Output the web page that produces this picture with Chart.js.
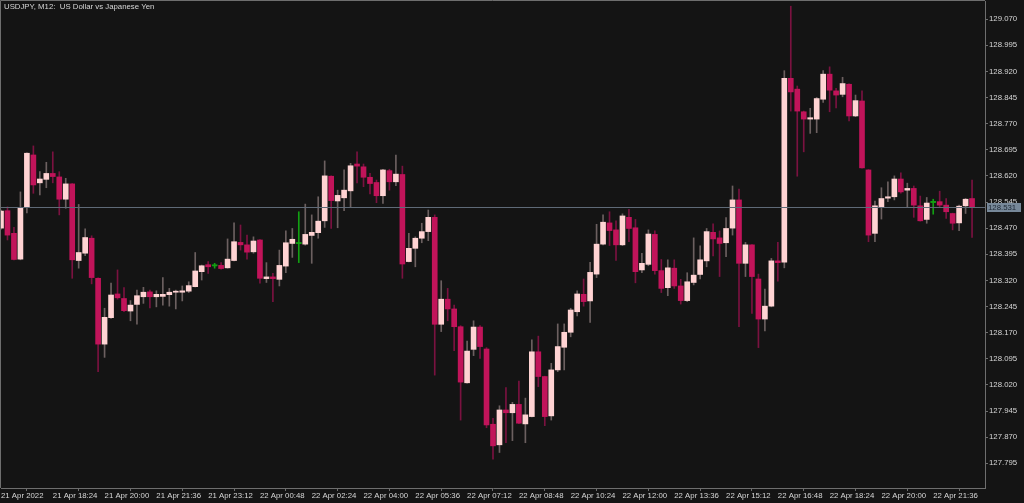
<!DOCTYPE html>
<html>
<head>
<meta charset="utf-8">
<script src="https://cdn.jsdelivr.net/npm/chart.js@4.4.1/dist/chart.umd.min.js"></script>
<style>
  html, body { margin: 0; padding: 0; background: #141414; }
  canvas { display: block; }
</style>
</head>
<body>
<canvas id="chart" width="1024" height="503"></canvas>
<script>
// USDJPY M12, 21 Apr 16:48 .. 22 Apr 22:48 (151 bars)
const title = 'USDJPY, M12:  US Dollar vs Japanese Yen'
const bid = 128.531

const tickLabels = ['21 Apr 2022', '21 Apr 18:24', '21 Apr 20:00', '21 Apr 21:36', '21 Apr 23:12',
  '22 Apr 00:48', '22 Apr 02:24', '22 Apr 04:00', '22 Apr 05:36', '22 Apr 07:12', '22 Apr 08:48',
  '22 Apr 10:24', '22 Apr 12:00', '22 Apr 13:36', '22 Apr 15:12', '22 Apr 16:48', '22 Apr 18:24',
  '22 Apr 20:00', '22 Apr 21:36']

const priceTicks = [129.070, 128.995, 128.920, 128.845, 128.770, 128.695, 128.620, 128.545, 128.470,
  128.395, 128.320, 128.245, 128.170, 128.095, 128.020, 127.945, 127.870, 127.795]

const opens = [
  128.470, 128.520, 128.455, 128.381, 128.529, 128.680, 128.600, 128.610, 128.627, 128.617,
  128.553, 128.597, 128.377, 128.398, 128.441, 128.326, 128.137, 128.213, 128.281, 128.268,
  128.232, 128.251, 128.273, 128.287, 128.273, 128.274, 128.279, 128.286, 128.286, 128.289,
  128.302, 128.345, 128.365, 128.362, 128.363, 128.356, 128.377, 128.429, 128.422, 128.402,
  128.436, 128.325, 128.330, 128.323, 128.361, 128.426, 128.426, 128.424, 128.449, 128.457,
  128.491, 128.619, 128.548, 128.557, 128.577, 128.654, 128.646, 128.616, 128.601, 128.563,
  128.635, 128.603, 128.624, 128.374, 128.412, 128.441, 128.460, 128.501, 128.194, 128.266,
  128.238, 128.187, 128.026, 128.122, 128.186, 128.123, 127.907, 127.848, 127.948, 127.940,
  127.964, 127.908, 127.929, 128.115, 128.044, 127.931, 128.063, 128.128, 128.171, 128.230,
  128.280, 128.261, 128.338, 128.424, 128.485, 128.465, 128.422, 128.501, 128.471, 128.350,
  128.366, 128.452, 128.348, 128.299, 128.355, 128.304, 128.262, 128.314, 128.337, 128.376,
  128.458, 128.442, 128.428, 128.470, 128.551, 128.369, 128.422, 128.324, 128.209, 128.246,
  128.376, 128.372, 128.900, 128.869, 128.804, 128.783, 128.783, 128.840, 128.912, 128.864,
  128.854, 128.883, 128.792, 128.835, 128.637, 128.455, 128.531, 128.556, 128.560, 128.611,
  128.579, 128.584, 128.534, 128.495, 128.544, 128.546, 128.536, 128.512, 128.485, 128.534,
  128.555]

const highs = [
  128.522, 128.531, 128.472, 128.574, 128.686, 128.706, 128.632, 128.659, 128.689, 128.632,
  128.613, 128.598, 128.538, 128.468, 128.448, 128.327, 128.240, 128.312, 128.350, 128.299,
  128.262, 128.292, 128.300, 128.292, 128.290, 128.328, 128.297, 128.292, 128.304, 128.316,
  128.400, 128.364, 128.374, 128.369, 128.371, 128.439, 128.485, 128.479, 128.450, 128.445,
  128.437, 128.371, 128.340, 128.407, 128.462, 128.469, 128.517, 128.539, 128.508, 128.560,
  128.663, 128.620, 128.579, 128.637, 128.656, 128.689, 128.654, 128.627, 128.608, 128.639,
  128.639, 128.680, 128.648, 128.455, 128.445, 128.484, 128.522, 128.508, 128.319, 128.297,
  128.249, 128.190, 128.146, 128.204, 128.190, 128.127, 127.924, 127.960, 128.012, 127.970,
  128.031, 127.982, 128.149, 128.160, 128.045, 128.082, 128.195, 128.195, 128.240, 128.290,
  128.324, 128.372, 128.481, 128.508, 128.517, 128.491, 128.511, 128.524, 128.495, 128.398,
  128.465, 128.462, 128.380, 128.379, 128.379, 128.323, 128.342, 128.442, 128.419, 128.469,
  128.482, 128.462, 128.500, 128.591, 128.582, 128.429, 128.423, 128.338, 128.295, 128.383,
  128.429, 128.922, 129.107, 128.878, 128.806, 128.814, 128.845, 128.922, 128.933, 128.871,
  128.903, 128.884, 128.852, 128.864, 128.638, 128.548, 128.586, 128.603, 128.620, 128.629,
  128.599, 128.591, 128.562, 128.558, 128.553, 128.576, 128.555, 128.513, 128.536, 128.555,
  128.608]

const lows = [
  128.467, 128.436, 128.379, 128.379, 128.514, 128.570, 128.565, 128.586, 128.600, 128.508,
  128.527, 128.326, 128.355, 128.391, 128.310, 128.058, 128.099, 128.211, 128.266, 128.230,
  128.204, 128.194, 128.254, 128.241, 128.244, 128.249, 128.246, 128.238, 128.261, 128.285,
  128.301, 128.321, 128.340, 128.355, 128.352, 128.355, 128.376, 128.407, 128.381, 128.398,
  128.312, 128.314, 128.259, 128.304, 128.342, 128.386, 128.371, 128.421, 128.369, 128.441,
  128.472, 128.469, 128.471, 128.520, 128.529, 128.600, 128.589, 128.568, 128.543, 128.541,
  128.579, 128.592, 128.326, 128.373, 128.359, 128.428, 128.434, 128.048, 128.173, 128.204,
  128.118, 127.919, 128.025, 128.104, 128.096, 127.897, 127.807, 127.826, 127.854, 127.860,
  127.909, 127.854, 127.928, 128.015, 127.903, 127.919, 128.058, 128.063, 128.158, 128.218,
  128.246, 128.199, 128.328, 128.422, 128.420, 128.377, 128.420, 128.431, 128.313, 128.342,
  128.362, 128.338, 128.285, 128.276, 128.297, 128.252, 128.259, 128.307, 128.324, 128.359,
  128.390, 128.331, 128.388, 128.450, 128.187, 128.331, 128.225, 128.127, 128.175, 128.244,
  128.318, 128.356, 128.806, 128.619, 128.689, 128.742, 128.744, 128.831, 128.804, 128.815,
  128.847, 128.778, 128.790, 128.642, 128.431, 128.431, 128.496, 128.546, 128.551, 128.570,
  128.531, 128.501, 128.490, 128.484, 128.510, 128.531, 128.498, 128.465, 128.463, 128.512,
  128.443]

const closes = [
  128.519, 128.450, 128.380, 128.529, 128.685, 128.594, 128.611, 128.627, 128.618, 128.553,
  128.597, 128.379, 128.400, 128.443, 128.328, 128.137, 128.214, 128.278, 128.270, 128.233,
  128.249, 128.276, 128.286, 128.273, 128.280, 128.280, 128.286, 128.289, 128.290, 128.305,
  128.347, 128.362, 128.359, 128.362, 128.354, 128.381, 128.431, 128.422, 128.401, 128.433,
  128.326, 128.330, 128.325, 128.363, 128.428, 128.438, 128.426, 128.452, 128.458, 128.490,
  128.620, 128.549, 128.564, 128.579, 128.649, 128.648, 128.616, 128.598, 128.563, 128.637,
  128.603, 128.625, 128.367, 128.412, 128.441, 128.460, 128.501, 128.194, 128.266, 128.238,
  128.187, 128.028, 128.117, 128.186, 128.130, 127.905, 127.845, 127.948, 127.940, 127.964,
  127.910, 127.934, 128.115, 128.044, 127.929, 128.063, 128.130, 128.171, 128.235, 128.281,
  128.259, 128.343, 128.424, 128.487, 128.463, 128.422, 128.505, 128.469, 128.345, 128.369,
  128.453, 128.348, 128.297, 128.356, 128.304, 128.262, 128.316, 128.335, 128.379, 128.460,
  128.439, 128.426, 128.469, 128.551, 128.369, 128.422, 128.331, 128.209, 128.246, 128.376,
  128.371, 128.900, 128.861, 128.806, 128.783, 128.787, 128.842, 128.912, 128.866, 128.852,
  128.885, 128.792, 128.836, 128.643, 128.450, 128.534, 128.555, 128.560, 128.611, 128.574,
  128.584, 128.536, 128.491, 128.542, 128.544, 128.536, 128.517, 128.484, 128.533, 128.553,
  128.531]

// colours
const fg = '#d6d6d6'
const frame = '#6e6e6e'
const upBody = '#ffd3d3'
const upWick = '#6c6060'
const downBody = '#c1145a'
const downWick = '#7a1240'
const dojiColor = '#12a012'
const bidColor = '#778899'

// bar times, 12 minute bars starting 21 Apr 16:48, plus 2 empty slots of right shift
const labels = []
const start = Date.UTC(2022, 3, 21, 16, 48)
for (let i = 0; i < opens.length + 2; i++) {
  const d = new Date(start + i * 12 * 60000)
  labels.push(d.getUTCDate() + ' Apr ' + String(d.getUTCHours()).padStart(2, '0') + ':' + String(d.getUTCMinutes()).padStart(2, '0'))
}

const kind = opens.map((o, i) => closes[i] > o ? 'up' : closes[i] < o ? 'down' : 'doji')
const wickColors = kind.map(k => k === 'up' ? upWick : k === 'down' ? downWick : dojiColor)
const bodyColors = kind.map(k => k === 'up' ? upBody : k === 'down' ? downBody : dojiColor)

const font = { family: '"Liberation Sans", Arial, sans-serif', size: 7.8 }

const mtDecor = {
  id: 'mtDecor',
  afterDraw (chart) {
    const { ctx, chartArea: a, scales } = chart
    ctx.save()
    // frame (top/left; right and bottom come from axes)
    ctx.strokeStyle = frame
    ctx.lineWidth = 1
    ctx.beginPath()
    ctx.moveTo(a.left - 0.5, a.bottom)
    ctx.lineTo(a.left - 0.5, a.top - 0.5)
    ctx.lineTo(a.right, a.top - 0.5)
    ctx.stroke()
    // bid line
    const y = Math.round(scales.y.getPixelForValue(bid)) + 0.5
    ctx.strokeStyle = '#5f6a77'
    ctx.beginPath()
    ctx.moveTo(a.left, y)
    ctx.lineTo(a.right, y)
    ctx.stroke()
    // bid label
    ctx.fillStyle = bidColor
    ctx.fillRect(a.right + 2, y - 4.5, 34, 9)
    ctx.fillStyle = '#1d2733'
    ctx.font = font.size + 'px ' + font.family
    ctx.textBaseline = 'middle'
    ctx.textAlign = 'left'
    ctx.fillText(bid.toFixed(3), a.right + 3, y + 0.5)
    // title
    ctx.fillStyle = fg
    ctx.fillText(title, 4, 7)
    ctx.restore()
  }
}

new Chart(document.getElementById('chart'), {
  type: 'bar',
  data: {
    labels: labels,
    datasets: [{
      type: 'line',
      data: opens.map((o, i) => kind[i] === 'doji' ? o : null),
      showLine: false,
      pointStyle: 'line',
      pointRadius: 2.5,
      pointBorderWidth: 1,
      pointBorderColor: dojiColor,
      order: 0
    }, {
      data: opens.map((o, i) => [Math.min(o, closes[i]), Math.max(o, closes[i])]),
      backgroundColor: bodyColors,
      borderWidth: 0,
      barThickness: 5,
      minBarLength: 1,
      grouped: false,
      order: 1
    }, {
      data: lows.map((l, i) => [l, highs[i]]),
      backgroundColor: wickColors,
      borderWidth: 0,
      barThickness: 1,
      grouped: false,
      order: 2
    }]
  },
  options: {
    responsive: false,
    animation: false,
    devicePixelRatio: 1,
    layout: { autoPadding: false, padding: { left: 1, top: 1, right: 0, bottom: 0 } },
    plugins: {
      legend: { display: false },
      tooltip: { enabled: false }
    },
    scales: {
      x: {
        type: 'category',
        offset: false,
        grid: { drawOnChartArea: false, drawTicks: true, tickLength: 3, color: frame },
        border: { color: frame },
        ticks: {
          autoSkip: false,
          maxRotation: 0,
          align: 'start',
          padding: 0,
          color: fg,
          font: font,
          callback: (v, i) => i % 8 === 0 && tickLabels[i / 8] ? tickLabels[i / 8] : null
        },
        afterFit: s => { s.height = 15; s.paddingLeft = 0; s.paddingRight = 0 }
      },
      y: {
        position: 'right',
        min: 127.724,
        max: 129.122,
        afterBuildTicks: s => { s.ticks = priceTicks.map(v => ({ value: v })) },
        grid: { drawOnChartArea: false, drawTicks: true, tickLength: 3, color: frame },
        border: { color: frame },
        ticks: {
          padding: 1,
          color: fg,
          font: font,
          callback: v => v.toFixed(3)
        },
        afterFit: s => { s.width = 39; s.paddingTop = 0; s.paddingBottom = 0 }
      }
    }
  },
  plugins: [mtDecor]
})
</script>
</body>
</html>
